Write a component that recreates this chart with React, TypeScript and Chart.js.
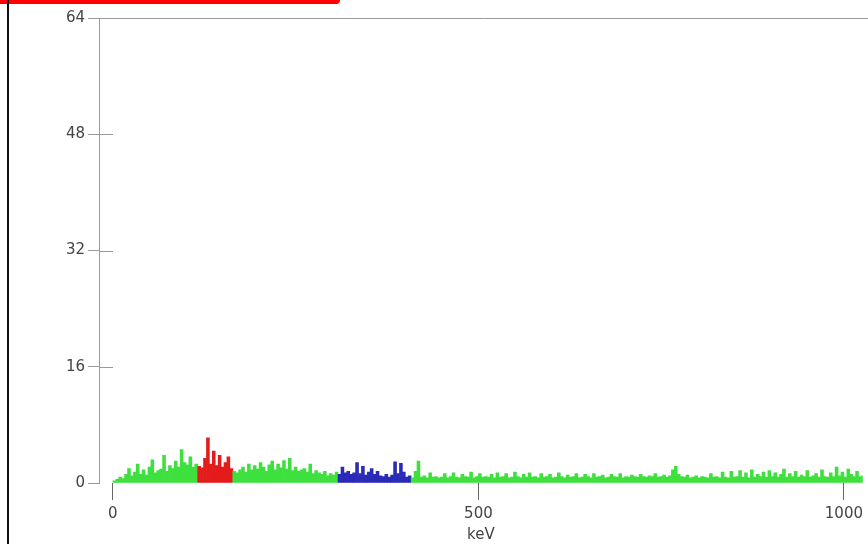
import React, { useEffect, useRef } from 'react';
import { Chart, registerables } from 'chart.js';

Chart.register(...registerables);

// Spectrum: counts per 4 keV channel, channel i covers [i * CHANNEL_KEV, (i + 1) * CHANNEL_KEV)
const CHANNEL_KEV = 4;
const counts: number[] = [
  // 0 - 60 keV
  0.3, 0.5, 0.8, 0.6, 1.2, 2.0, 1.0, 1.5, 2.6, 1.2, 1.8, 1.1, 2.2, 3.2, 1.4, 1.7,
  // 64 - 124 keV
  1.9, 3.8, 1.6, 2.4, 2.0, 3.0, 2.2, 4.6, 2.8, 2.5, 3.6, 2.2, 2.6, 2.3, 2.1, 3.4,
  // 128 - 188 keV
  6.2, 2.6, 4.4, 2.4, 3.8, 2.2, 2.8, 3.6, 2.0, 1.6, 1.4, 1.8, 2.2, 1.5, 2.6, 1.8,
  // 192 - 252 keV
  2.4, 1.9, 2.8, 2.2, 1.6, 2.5, 3.0, 1.8, 2.6, 2.1, 3.1, 1.9, 3.4, 1.7, 2.2, 1.6,
  // 256 - 316 keV
  1.8, 2.0, 1.5, 2.6, 1.3, 1.7, 1.4, 1.2, 1.6, 1.0, 1.3, 1.1, 1.5, 1.2, 2.2, 1.4,
  // 320 - 380 keV
  1.6, 1.2, 1.4, 2.8, 1.3, 2.3, 1.1, 1.5, 2.0, 1.2, 1.6, 1.0, 0.9, 1.2, 0.8, 1.1,
  // 384 - 444 keV
  2.9, 1.3, 2.7, 1.5, 0.8, 1.0, 0.7, 1.6, 3.0, 0.8, 1.0, 0.7, 1.4, 0.8, 0.9, 0.7,
  // 448 - 508 keV
  0.8, 1.3, 0.7, 0.9, 1.4, 0.8, 0.7, 1.2, 0.9, 0.8, 1.5, 0.7, 0.9, 1.3, 0.8, 0.9,
  // 512 - 572 keV
  0.8, 1.2, 0.7, 1.4, 0.8, 0.9, 1.3, 0.7, 0.8, 1.5, 0.9, 0.7, 1.2, 0.8, 1.4, 0.8,
  // 576 - 636 keV
  0.9, 0.7, 1.3, 0.8, 0.9, 1.2, 0.7, 0.8, 1.4, 0.9, 0.7, 1.1, 0.8, 0.9, 1.3, 0.7,
  // 640 - 700 keV
  0.8, 1.2, 0.9, 0.7, 1.3, 0.8, 0.9, 1.1, 0.7, 0.8, 1.2, 0.9, 0.8, 1.3, 0.7, 0.9,
  // 704 - 764 keV
  0.8, 1.1, 0.9, 0.8, 1.2, 0.9, 0.8, 1.0, 0.9, 1.3, 0.8, 0.9, 1.1, 0.8, 1.0, 1.8,
  // 768 - 828 keV
  2.3, 1.2, 0.9, 0.8, 1.1, 0.7, 0.8, 1.0, 0.7, 0.9, 0.8, 0.7, 1.3, 0.8, 0.9, 0.7,
  // 832 - 892 keV
  1.5, 0.8, 0.7, 1.6, 0.8, 0.9, 1.7, 0.8, 1.4, 0.7, 1.8, 0.8, 1.2, 0.9, 1.5, 0.8,
  // 896 - 956 keV
  1.7, 0.9, 1.4, 0.8, 1.2, 1.9, 0.8, 1.3, 0.9, 1.6, 0.8, 1.1, 0.9, 1.7, 0.8, 1.0,
  // 960 - 1020 keV
  1.3, 0.8, 1.8, 0.9, 0.8, 1.4, 0.9, 2.2, 1.0, 1.5, 0.8, 1.9, 1.2, 0.9, 1.6, 0.9,
  1.0,
];

// Highlighted regions of interest (keV)
const redRegionKeV = [116, 164];
const blueRegionKeV = [308, 408];

const xTickValues = [0, 500, 1000];
const yTickValues = [0, 16, 32, 48, 64];
const xAxisTitle = 'keV';

const GREEN = '#3ee03e';
const RED = '#e41b1b';
const BLUE = '#2a2ab8';
const AXIS = '#9a9a9a';
const TEXT = '#444444';
const FONT = { family: '"DejaVu Sans", Arial, sans-serif', size: 15 };

export default function App() {
  const ref = useRef<HTMLCanvasElement>(null);

  useEffect(() => {
    const canvas = ref.current;
    if (!canvas) return;
    const points = counts.map((c, i) => ({ x: i * CHANNEL_KEV + CHANNEL_KEV / 2, y: c }));
    const colorFor = (x: number) => {
      if (x >= redRegionKeV[0] && x < redRegionKeV[1]) return RED;
      if (x >= blueRegionKeV[0] && x < blueRegionKeV[1]) return BLUE;
      return GREEN;
    };

    const frame = {
      id: 'frame',
      afterDraw(chart: any) {
        const { ctx, chartArea } = chart;
        const y = chart.scales.y;
        ctx.save();
        ctx.strokeStyle = AXIS;
        ctx.lineWidth = 1;
        ctx.beginPath();
        // top border
        ctx.moveTo(chartArea.left, Math.round(chartArea.top) + 0.5);
        ctx.lineTo(chart.width, Math.round(chartArea.top) + 0.5);
        // inner halves of the y tick marks
        yTickValues.forEach((v) => {
          if (v === 0 || v === 64) return;
          const py = Math.round(y.getPixelForValue(v)) + 0.5;
          ctx.moveTo(chartArea.left, py);
          ctx.lineTo(chartArea.left + 14, py);
        });
        ctx.stroke();
        ctx.restore();
      },
    };

    const chart = new Chart(canvas, {
      type: 'bar',
      data: {
        datasets: [
          {
            data: points as any,
            backgroundColor: points.map((p) => colorFor(p.x)),
            borderWidth: 0,
            barPercentage: 1,
            categoryPercentage: 1,
          },
        ],
      },
      options: {
        animation: false,
        responsive: false,
        layout: { padding: { top: 18, right: 0, bottom: 0, left: 0 } },
        plugins: { legend: { display: false }, tooltip: { enabled: false } },
        scales: {
          x: {
            type: 'linear',
            min: -19,
            max: 1025.8,
            offset: false,
            afterBuildTicks: (s: any) => {
              s.ticks = xTickValues.map((v) => ({ value: v }));
            },
            afterFit: (s: any) => {
              s.height = 61;
            },
            ticks: {
              autoSkip: false,
              maxRotation: 0,
              padding: 5,
              color: TEXT,
              font: FONT,
              callback: (v: any) => String(v),
            },
            grid: { drawOnChartArea: false, tickLength: 17, color: '#666', offset: false },
            border: { display: false },
            title: { display: true, text: xAxisTitle, color: TEXT, font: FONT, padding: 0 },
          },
          y: {
            min: 0,
            max: 64,
            afterBuildTicks: (s: any) => {
              s.ticks = yTickValues.map((v) => ({ value: v }));
            },
            afterFit: (s: any) => {
              s.width = 99;
            },
            ticks: { padding: 3, color: TEXT, font: FONT },
            grid: { drawOnChartArea: false, tickLength: 11, color: AXIS },
            border: { color: AXIS },
          },
        },
      } as any,
      plugins: [frame],
    });
    return () => chart.destroy();
  }, []);

  return (
    <div style={{ position: 'fixed', left: 0, top: 0, width: 868, height: 544, background: '#fff', overflow: 'hidden' }}>
      <canvas ref={ref} width={868} height={544} style={{ display: 'block' }} />
      <div style={{ position: 'absolute', left: 0, top: 0, width: 340, height: 4, background: '#ff0000', borderBottomRightRadius: 4 }} />
      <div style={{ position: 'absolute', left: 7, top: 0, width: 2, height: 544, background: '#111' }} />
    </div>
  );
}
